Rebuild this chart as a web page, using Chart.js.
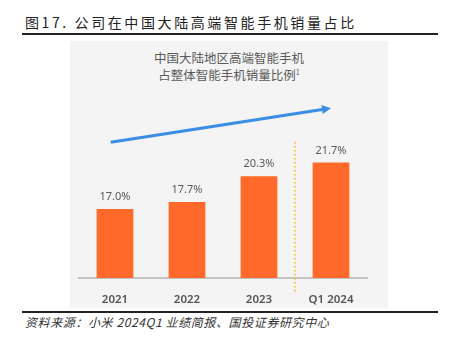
<!DOCTYPE html>
<html>
<head>
<meta charset="utf-8">
<script src="https://cdn.jsdelivr.net/npm/chart.js@4/dist/chart.umd.min.js"></script>
<style>
    body { margin: 0; background: #fff; }
    #wrap { position: relative; width: 449px; height: 339px; overflow: hidden; }
    .title {
        position: absolute; left: 25px; top: 12px;
        font: 14px "Noto Sans CJK SC", sans-serif; color: #222; letter-spacing: 2.6px;
        line-height: 20px; white-space: nowrap;
    }
    .rule { position: absolute; left: 22px; width: 416px; background: #222; }
    .panel { position: absolute; left: 70px; top: 41px; width: 318px; height: 267px; background: #f4f4f4; }
    .panel-head {
        position: absolute; left: 70px; width: 318px; top: 50px; text-align: center;
        font: 12.5px "Noto Sans CJK SC", sans-serif; color: #5a5a5a; line-height: 15px;
    }
    .panel-head sup { font-size: 7px; vertical-align: 5px; }
    .source {
        position: absolute; left: 25px; top: 313px;
        font: italic 12px "Noto Sans CJK SC", sans-serif; color: #333; letter-spacing: 0.6px;
        white-space: nowrap;
    }
    canvas { position: absolute; left: 0; top: 0; }
</style>
</head>
<body>
<div id="wrap">
    <div class="title">图17. 公司在中国大陆高端智能手机销量占比</div>
    <div class="rule" style="top:33px;height:2px;"></div>
    <div class="panel"></div>
    <div class="panel-head">中国大陆地区高端智能手机<br>占整体智能手机销量比例<sup>1</sup></div>
    <div class="rule" style="top:311px;height:2px;"></div>
    <div class="source">资料来源：小米 2024Q1 业绩简报、国投证券研究中心</div>
    <canvas id="chart" width="449" height="339"></canvas>
</div>
<script>
const periods = ['2021', '2022', '2023', 'Q1 2024'];
const premiumShare = [17.0, 17.7, 20.3, 21.7];

// trend arrow ends in (category index, value) units
const trendFrom = [-0.06, 23.75];
const trendTo = [3.0, 27.2];
// divider between the annual bars and the quarter
const dividerAt = 2.5;
const dividerTop = 23.8;

const decorPlugin = {
    id: 'decor',
    afterDatasetsDraw(chart) {
        const ctx = chart.ctx;
        const x = chart.scales.x, y = chart.scales.y;
        const area = chart.chartArea;

        // value labels
        const meta = chart.getDatasetMeta(0);
        ctx.save();
        ctx.font = '11px "Noto Sans", sans-serif';
        ctx.fillStyle = '#5a5a5a';
        ctx.textAlign = 'center';
        ctx.textBaseline = 'middle';
        meta.data.forEach((bar, i) => {
            ctx.fillText(premiumShare[i].toFixed(1) + '%', bar.x, bar.y - 12);
        });

        // dotted divider
        const dx = x.getPixelForValue(dividerAt);
        ctx.strokeStyle = '#f6c22c';
        ctx.lineWidth = 1.5;
        ctx.setLineDash([2, 2]);
        ctx.beginPath();
        ctx.moveTo(dx, y.getPixelForValue(dividerTop));
        ctx.lineTo(dx, area.bottom + 16);
        ctx.stroke();
        ctx.setLineDash([]);

        // trend arrow
        const x1 = x.getPixelForValue(trendFrom[0]), y1 = y.getPixelForValue(trendFrom[1]);
        const x2 = x.getPixelForValue(trendTo[0]), y2 = y.getPixelForValue(trendTo[1]);
        const ang = Math.atan2(y2 - y1, x2 - x1);
        const head = 9;
        ctx.strokeStyle = '#3a8ee6';
        ctx.fillStyle = '#3a8ee6';
        ctx.lineWidth = 3;
        ctx.beginPath();
        ctx.moveTo(x1, y1);
        ctx.lineTo(x2 - Math.cos(ang) * head * 0.8, y2 - Math.sin(ang) * head * 0.8);
        ctx.stroke();
        ctx.beginPath();
        ctx.moveTo(x2, y2);
        ctx.lineTo(x2 - head * Math.cos(ang) + 4.5 * Math.sin(ang), y2 - head * Math.sin(ang) - 4.5 * Math.cos(ang));
        ctx.lineTo(x2 - head * Math.cos(ang) - 4.5 * Math.sin(ang), y2 - head * Math.sin(ang) + 4.5 * Math.cos(ang));
        ctx.closePath();
        ctx.fill();
        ctx.restore();
    }
};

new Chart(document.getElementById('chart').getContext('2d'), {
    type: 'bar',
    data: {
        labels: periods,
        datasets: [{
            data: premiumShare,
            backgroundColor: '#ff6a2a',
            borderWidth: 0,
            barPercentage: 0.51,
            categoryPercentage: 1.0
        }]
    },
    options: {
        responsive: false,
        animation: false,
        layout: { padding: { left: 79, right: 82, top: 41, bottom: 31 } },
        plugins: { legend: { display: false }, tooltip: { enabled: false } },
        scales: {
            x: {
                grid: { display: false },
                border: { display: true, color: '#c4c4c4', width: 2 },
                ticks: {
                    color: '#555',
                    padding: 7,
                    font: { family: '"Noto Sans", sans-serif', size: 11.5, weight: '600' }
                },
                afterFit(scale) { scale.height = 30; }
            },
            y: {
                display: false,
                min: 10,
                max: 34
            }
        }
    },
    plugins: [decorPlugin]
});
</script>
</body>
</html>
